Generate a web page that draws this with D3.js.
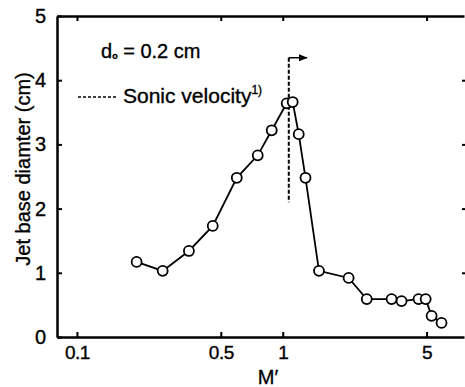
<!DOCTYPE html>
<html>
<head>
<meta charset="utf-8">
<script src="https://cdn.jsdelivr.net/npm/d3@7"></script>
<style>
  html, body { margin: 0; padding: 0; background: #fff; }
  svg { display: block; }
  text { font-family: "Liberation Sans", Arial, sans-serif; fill: #000; stroke: #000; stroke-width: 0.35px; }
</style>
</head>
<body>
<svg id="chart" width="465" height="387"></svg>
<script>
// Jet base diameter against M' (nozzle diameter 0.2 cm)
const mPrime = [0.195, 0.261, 0.350, 0.457, 0.598, 0.756, 0.884, 1.045, 1.118, 1.196, 1.29,
                1.50, 2.09, 2.56, 3.38, 3.78, 4.57, 4.95, 5.29, 5.91];
const jetDiameter = [1.17, 1.03, 1.34, 1.73, 2.48, 2.83, 3.22, 3.64, 3.66, 3.16, 2.48,
                     1.03, 0.92, 0.59, 0.59, 0.56, 0.59, 0.59, 0.33, 0.22];
const xTicks = [0.1, 0.5, 1, 5];
const xTickLabels = ["0.1", "0.5", "1", "5"];
const yTicks = [0, 1, 2, 3, 4, 5];
const sonicM = 1.07;
const sonicRange = [2.1, 4.35];

const svg = d3.select("#chart");
const plotLeft = 57, plotRight = 464, plotTop = 16, plotBottom = 337;

const x = d3.scaleLog().domain([0.08, 7.6]).range([plotLeft, plotRight]);
const y = d3.scaleLinear().domain([0, 5]).range([plotBottom, plotTop]);

// Frame axes
const axisStyle = g => {
  g.selectAll(".domain").attr("stroke", "#000").attr("stroke-width", 2.5);
  g.selectAll(".tick line").attr("stroke", "#000").attr("stroke-width", 2);
};

svg.append("g")
  .attr("transform", `translate(0,${plotBottom})`)
  .call(d3.axisBottom(x).tickValues(xTicks).tickSize(-5).tickPadding(9)
        .tickFormat((d, i) => xTickLabels[i]).tickSizeOuter(0))
  .call(axisStyle)
  .call(g => g.selectAll("text").attr("font-size", 19).attr("letter-spacing", -0.5)
        .attr("font-family", "Liberation Sans, Arial, sans-serif"));

svg.append("g")
  .attr("transform", `translate(0,${plotTop})`)
  .call(d3.axisTop(x).tickValues(xTicks).tickSize(-5).tickFormat("").tickSizeOuter(0))
  .call(axisStyle);

svg.append("g")
  .attr("transform", `translate(${plotLeft},0)`)
  .call(d3.axisLeft(y).tickValues(yTicks).tickSize(-5).tickPadding(11).tickSizeOuter(0)
        .tickFormat(d3.format("d")))
  .call(axisStyle)
  .call(g => g.selectAll("text").attr("font-size", 20).attr("font-family", "Liberation Sans, Arial, sans-serif"));

svg.append("g")
  .attr("transform", `translate(${plotRight + 2},0)`)
  .call(d3.axisRight(y).tickValues([1, 2, 3, 4]).tickSize(-4).tickFormat("").tickSizeOuter(0))
  .call(axisStyle);

// Axis titles
svg.append("text")
  .attr("transform", `translate(30,169) rotate(-90)`)
  .attr("text-anchor", "middle")
  .attr("font-size", 20)
  .text("Jet base diamter (cm)");

svg.append("text")
  .attr("x", 268).attr("y", 384)
  .attr("text-anchor", "middle")
  .attr("font-size", 20)
  .text("M\u2032");

// Sonic velocity marker
svg.append("line")
  .attr("x1", x(sonicM)).attr("x2", x(sonicM))
  .attr("y1", y(sonicRange[1])).attr("y2", y(sonicRange[0]))
  .attr("stroke", "#000").attr("stroke-width", 2).attr("stroke-dasharray", "4,2");

svg.append("defs").append("marker")
  .attr("id", "arrow").attr("viewBox", "0 0 10 10")
  .attr("refX", 9).attr("refY", 5)
  .attr("markerWidth", 6).attr("markerHeight", 6).attr("orient", "auto")
  .append("path").attr("d", "M0,1 L10,5 L0,9 Z").attr("fill", "#000");

svg.append("line")
  .attr("x1", x(sonicM)).attr("x2", x(sonicM) + 18)
  .attr("y1", y(sonicRange[1])).attr("y2", y(sonicRange[1]))
  .attr("stroke", "#000").attr("stroke-width", 1.5)
  .attr("marker-end", "url(#arrow)");

// Legend / annotations
const note = svg.append("text").attr("x", 101).attr("y", 58).attr("font-size", 20);
note.append("tspan").text("d");
note.append("tspan").attr("font-size", 9).attr("dy", 1).attr("font-weight", "bold").text("o");
note.append("tspan").attr("dy", -1).text(" = 0.2 cm");

svg.append("line")
  .attr("x1", 78).attr("x2", 116).attr("y1", 97).attr("y2", 97)
  .attr("stroke", "#000").attr("stroke-width", 1.5).attr("stroke-dasharray", "3,2");

const sonic = svg.append("text").attr("x", 123).attr("y", 103).attr("font-size", 21);
sonic.append("tspan").text("Sonic velocity");
sonic.append("tspan").attr("font-size", 12).attr("dy", -9).text("1)");

// Data line and markers
const line = d3.line().x((d, i) => x(mPrime[i])).y(d => y(d));
svg.append("path")
  .datum(jetDiameter)
  .attr("d", line)
  .attr("fill", "none").attr("stroke", "#000").attr("stroke-width", 1.8);

svg.append("g").selectAll("circle")
  .data(jetDiameter)
  .join("circle")
  .attr("cx", (d, i) => x(mPrime[i]))
  .attr("cy", d => y(d))
  .attr("r", 5)
  .attr("fill", "#fff").attr("stroke", "#000").attr("stroke-width", 1.8);
</script>
</body>
</html>
